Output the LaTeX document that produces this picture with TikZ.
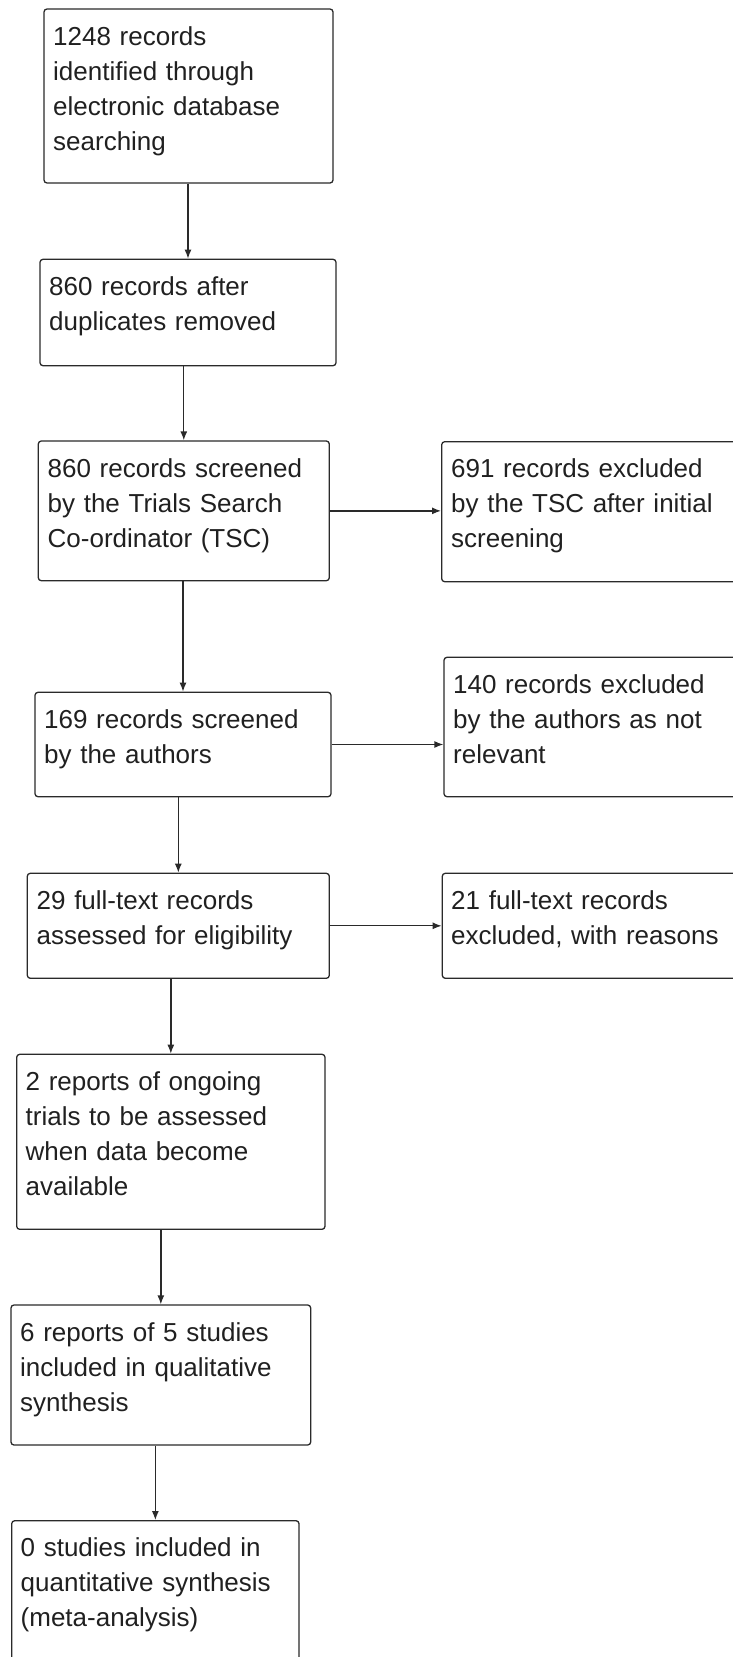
\documentclass[tikz,border=0pt]{standalone}
\usepackage{fontspec}
\setmainfont{Liberation Sans}
\usetikzlibrary{arrows.meta,fit}
\definecolor{linegray}{HTML}{2A2A2A}
\definecolor{textgray}{HTML}{202020}
\begin{document}
\begin{tikzpicture}[x=1pt,y=-1pt,
  box/.style={draw=linegray, line width=1.3pt, rounded corners=3pt, inner sep=0pt},
  txt/.style={anchor=base west, inner sep=0pt, align=left, text width=320pt,
    font=\fontsize{26}{35}\selectfont, text=textgray},
  arr/.style={draw=linegray, line width=1.3pt, -{Latex[length=9pt,width=7pt]}}]
\useasboundingbox (0,0) rectangle (733,1657);
% boxes
\node[box, fit={(44,9)(333,183)}] (b1) {};
\node[box, fit={(40,259.3)(336,365.7)}] (b2) {};
\node[box, fit={(38.3,441)(329.3,580.7)}] (b3) {};
\node[box, fit={(35,692.3)(331,796.7)}] (b4) {};
\node[box, fit={(27.3,873.3)(329.3,978.3)}] (b5) {};
\node[box, fit={(16.7,1054.3)(325,1229.3)}] (b6) {};
\node[box, fit={(11,1305)(310.7,1445)}] (b7) {};
\node[box, fit={(11.7,1520.7)(299,1700)}] (b8) {};
\node[box, fit={(441.7,441.7)(760,581.7)}] (r1) {};
\node[box, fit={(444,657.3)(760,796.7)}] (r2) {};
\node[box, fit={(442.3,873.3)(760,978.3)}] (r3) {};
% texts
\node[txt] (t1) at (53,45) {1248 records\\identified through\\electronic database\\searching};
\node[txt] (t2) at (49,295.5) {860 records after\\duplicates removed};
\node[txt] (t3) at (47.5,477) {860 records screened\\by the Trials Search\\Co-ordinator (TSC)};
\node[txt] (t4) at (44,728.5) {169 records screened\\by the authors};
\node[txt] (t5) at (36.5,909.5) {29 full-text records\\assessed for eligibility};
\node[txt] (t6) at (25.5,1090.5) {2 reports of ongoing\\trials to be assessed\\when data become\\available};
\node[txt] (t7) at (20,1341) {6 reports of 5 studies\\included in qualitative\\synthesis};
\node[txt] (t8) at (20.5,1556.7) {0 studies included in\\quantitative synthesis\\(meta-analysis)};
\node[txt] (s1) at (451,477.7) {691 records excluded\\by the TSC after initial\\screening};
\node[txt] (s2) at (453,693.3) {140 records excluded\\by the authors as not\\relevant};
\node[txt] (s3) at (451,909.5) {21 full-text records\\excluded, with reasons};
% vertical connectors
\draw[arr] (b2.north |- b1.south) -- (b2.north);
\draw[arr] (b3.north |- b2.south) -- (b3.north);
\draw[arr] (b4.north |- b3.south) -- (b4.north);
\draw[arr] (b5.north |- b4.south) -- (b5.north);
\draw[arr] (b6.north |- b5.south) -- (b6.north);
\draw[arr] (b7.north |- b6.south) -- (b7.north);
\draw[arr] (b8.north |- b7.south) -- (b8.north);
% horizontal connectors
\draw[arr] (b3.east) -- (b3.east -| r1.west);
\draw[arr] (b4.east) -- (b4.east -| r2.west);
\draw[arr] (b5.east) -- (b5.east -| r3.west);
\end{tikzpicture}
\end{document}
